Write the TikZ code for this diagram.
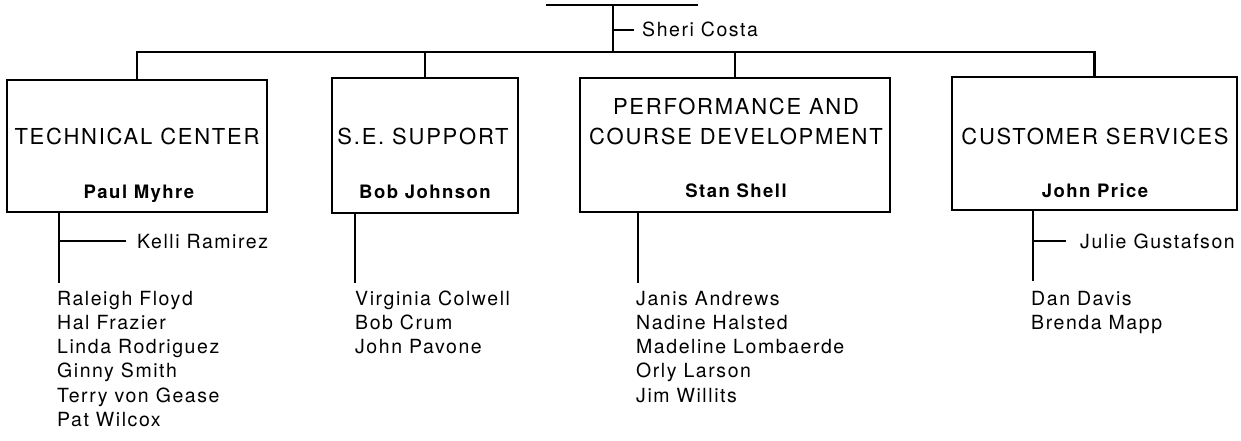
\documentclass[tikz,border=0pt]{standalone}
\usepackage{fontspec}
\setmainfont{TeX Gyre Heros}[LetterSpace=8]
\tikzset{
  ln/.style={line width=2.3pt, line cap=rect},
  box/.style={draw, line width=2.3pt, inner sep=0pt},
  ttl/.style={font=\fontsize{22}{26}\selectfont, inner sep=0pt, anchor=base},
  boss/.style={font=\fontsize{18.5}{22}\selectfont\bfseries, inner sep=0pt, anchor=base},
  nm/.style={font=\fontsize{19.5}{23}\selectfont, inner sep=0pt, anchor=base west},
}
\begin{document}
\begin{tikzpicture}[x=1pt,y=-1pt]
\useasboundingbox (0,0) rectangle (1241,440);
% top
\coordinate (tl) at (547,5);
\coordinate (tr) at (697,5);
\coordinate (tt) at (613,5);
\coordinate (tb) at (613,52);
\coordinate (st) at (613,30);
\coordinate (se) at (633,30);
\draw[ln] (tl) -- (tr);
\draw[ln] (tt) -- (tb);
\draw[ln] (st) -- (se);
\node[nm] (sheri) at (642,36) {Sheri Costa};
% boxes
\node[box, minimum width=260, minimum height=132] (b1) at (137,146) {};
\node[box, minimum width=186, minimum height=135] (b2) at (425,145.5) {};
\node[box, minimum width=310, minimum height=134] (b3) at (735,145) {};
\node[box, minimum width=285, minimum height=133] (b4) at (1094.5,143.5) {};
% bar and drops
\coordinate (bar1) at (b1.north |- tb);
\coordinate (bar2) at (b2.north |- tb);
\coordinate (bar3) at (b3.north |- tb);
\coordinate (bar4) at (b4.north |- tb);
\draw[ln] (bar1) -- (bar4);
\draw[ln] (bar1) -- (b1.north);
\draw[ln] (bar2) -- (b2.north);
\draw[ln] (bar3) -- (b3.north);
\draw[ln] (bar4) -- (b4.north);
% box texts
\node[ttl] (t1) at (137,144) {TECHNICAL CENTER};
\node[boss] (m1) at (139,198) {Paul Myhre};
\node[ttl] (t2) at (423,144) {S.E. SUPPORT};
\node[boss] (m2) at (425,198) {Bob Johnson};
\node[ttl] (t3a) at (736,114) {PERFORMANCE AND};
\node[ttl] (t3b) at (736,144) {COURSE DEVELOPMENT};
\node[boss] (m3) at (736,197) {Stan Shell};
\node[ttl] (t4) at (1095,144) {CUSTOMER SERVICES};
\node[boss] (m4) at (1095,197) {John Price};
% lower lines
\coordinate (d1t) at (b1.south -| 59,0);
\coordinate (d1b) at (59,282);
\coordinate (k1) at (59,241);
\coordinate (k2) at (125,241);
\draw[ln] (d1t) -- (d1b);
\draw[ln] (k1) -- (k2);
\node[nm] (kelli) at (137,248) {Kelli Ramirez};
\coordinate (d2t) at (b2.south -| 355,0);
\coordinate (d2b) at (355,282);
\draw[ln] (d2t) -- (d2b);
\coordinate (d3t) at (b3.south -| 638,0);
\coordinate (d3b) at (638,282);
\draw[ln] (d3t) -- (d3b);
\coordinate (d4t) at (b4.south -| 1033,0);
\coordinate (d4b) at (1033,280);
\coordinate (j1) at (1033,241);
\coordinate (j2) at (1065,241);
\draw[ln] (d4t) -- (d4b);
\draw[ln] (j1) -- (j2);
\node[nm] (julie) at (1080,248) {Julie Gustafson};
% names
\node[nm] (n11) at (57,305) {Raleigh Floyd};
\node[nm] (n12) at (57,329.3) {Hal Frazier};
\node[nm] (n13) at (57,353.6) {Linda Rodriguez};
\node[nm] (n14) at (57,377.9) {Ginny Smith};
\node[nm] (n15) at (57,402.2) {Terry von Gease};
\node[nm] (n16) at (57,426.5) {Pat Wilcox};
\node[nm] (n21) at (355,305) {Virginia Colwell};
\node[nm] (n22) at (355,329.3) {Bob Crum};
\node[nm] (n23) at (355,353.6) {John Pavone};
\node[nm] (n31) at (636,305) {Janis Andrews};
\node[nm] (n32) at (636,329.3) {Nadine Halsted};
\node[nm] (n33) at (636,353.6) {Madeline Lombaerde};
\node[nm] (n34) at (636,377.9) {Orly Larson};
\node[nm] (n35) at (636,402.2) {Jim Willits};
\node[nm] (n41) at (1031,305) {Dan Davis};
\node[nm] (n42) at (1031,329.3) {Brenda Mapp};
\end{tikzpicture}
\end{document}
